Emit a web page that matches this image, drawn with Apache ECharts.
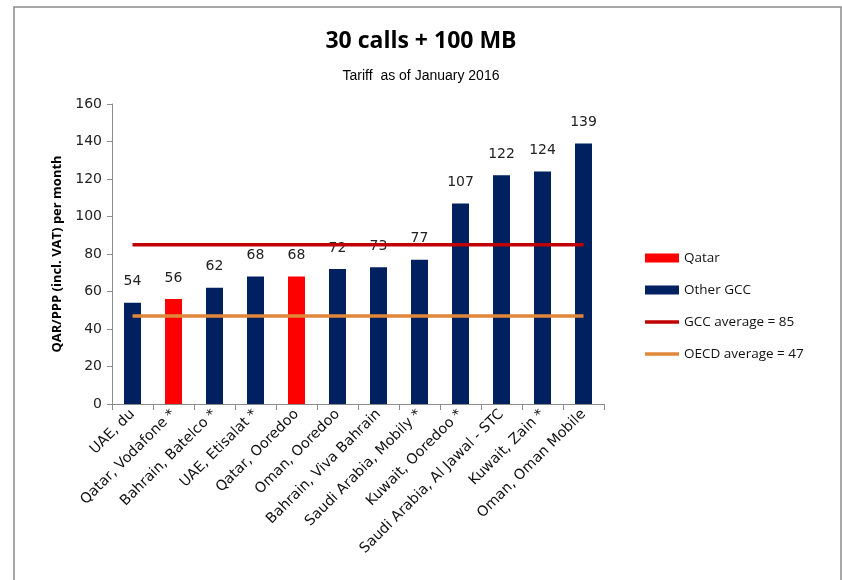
<!DOCTYPE html>
<html>
<head>
<meta charset="utf-8">
<script src="https://cdn.jsdelivr.net/npm/echarts@6/dist/echarts.min.js"></script>
<style>
html, body { margin: 0; padding: 0; background: #fff; }
#main { width: 842px; height: 580px; }
</style>
</head>
<body>
<div id="main"></div>
<script>
// operators, sorted by price
var operators = ['UAE, du', 'Qatar, Vodafone *', 'Bahrain, Batelco *', 'UAE, Etisalat *', 'Qatar, Ooredoo',
    'Oman, Ooredoo', 'Bahrain, Viva Bahrain', 'Saudi Arabia, Mobily *', 'Kuwait, Ooredoo *',
    'Saudi Arabia, Al Jawal - STC', 'Kuwait, Zain *', 'Oman, Oman Mobile'];
var prices = [54, 56, 62, 68, 68, 72, 73, 77, 107, 122, 124, 139];
var isQatar = [false, true, false, false, true, false, false, false, false, false, false, false];
var gccAvg = 85;
var oecdAvg = 47;

var qatarData = prices.map(function (v, i) { return isQatar[i] ? v : '-'; });
var otherData = prices.map(function (v, i) { return isQatar[i] ? '-' : v; });
var gccLine = operators.map(function () { return gccAvg; });
var oecdLine = operators.map(function () { return oecdAvg; });

var myChart = echarts.init(document.getElementById('main'));
var lineIcon = 'path://M0,0 L34,0 L34,3.5 L0,3.5 Z';
var barLabel = {
    show: true,
    position: 'top',
    distance: 14,
    fontSize: 14,
    color: '#222',
    fontFamily: 'DejaVu Sans'
};
var options = {
    animation: false,
    title: [{
        text: '30 calls + 100 MB',
        left: 'center',
        top: 25,
        textStyle: { fontSize: 23, fontWeight: 'bold', color: '#000', fontFamily: 'Open Sans' }
    }, {
        text: 'Tariff  as of January 2016',
        left: 'center',
        top: 64,
        textStyle: { fontSize: 14, fontWeight: 'normal', color: '#000', fontFamily: 'Liberation Sans Narrow, Liberation Sans' }
    }],
    graphic: [{
        type: 'rect',
        shape: { x: 14, y: 7, width: 827, height: 600 },
        style: { fill: 'none', stroke: '#8c8c8c', lineWidth: 1.5 }
    }],
    legend: {
        orient: 'vertical',
        left: 640,
        top: 246,
        itemGap: 18,
        itemWidth: 34,
        itemHeight: 9,
        textStyle: { fontSize: 13.5, color: '#111', fontFamily: 'Open Sans' },
        data: [
            { name: 'Qatar', icon: 'rect' },
            { name: 'Other GCC', icon: 'rect' },
            { name: 'GCC average = 85', icon: lineIcon },
            { name: 'OECD average = 47', icon: lineIcon }
        ]
    },
    grid: {
        left: 112,
        top: 104,
        width: 492,
        height: 300
    },
    xAxis: {
        type: 'category',
        data: operators,
        axisLine: { lineStyle: { color: '#8c8c8c', width: 1 } },
        axisTick: { show: true, length: 6, lineStyle: { color: '#8c8c8c' } },
        axisLabel: {
            rotate: 45,
            interval: 0,
            fontSize: 14.3,
            color: '#111',
            margin: 8,
            fontFamily: 'DejaVu Sans'
        }
    },
    yAxis: {
        type: 'value',
        min: 0,
        max: 160,
        interval: 20,
        name: 'QAR/PPP (incl. VAT) per month',
        nameLocation: 'middle',
        nameGap: 48,
        nameTextStyle: { fontSize: 13, fontWeight: 'bold', color: '#000', fontFamily: 'Open Sans' },
        axisLine: { show: true, lineStyle: { color: '#8c8c8c' } },
        axisTick: { show: true, length: 5, lineStyle: { color: '#8c8c8c' } },
        splitLine: { show: false },
        axisLabel: { fontSize: 14, color: '#222', margin: 10, fontFamily: 'DejaVu Sans' }
    },
    series: [{
        name: 'Qatar',
        type: 'bar',
        data: qatarData,
        stack: 'p',
        barWidth: 17,
        itemStyle: { color: '#ff0000' },
        label: barLabel
    }, {
        name: 'Other GCC',
        type: 'bar',
        data: otherData,
        stack: 'p',
        barWidth: 17,
        itemStyle: { color: '#002060' },
        label: barLabel
    }, {
        name: 'GCC average = 85',
        type: 'line',
        data: gccLine,
        symbol: 'none',
        lineStyle: { color: '#c00000', width: 3.5 },
        itemStyle: { color: '#c00000' },
        z: 5
    }, {
        name: 'OECD average = 47',
        type: 'line',
        data: oecdLine,
        symbol: 'none',
        lineStyle: { color: '#e0873a', width: 3.5 },
        itemStyle: { color: '#e0873a' },
        z: 5
    }]
};
myChart.setOption(options);
</script>
</body>
</html>
